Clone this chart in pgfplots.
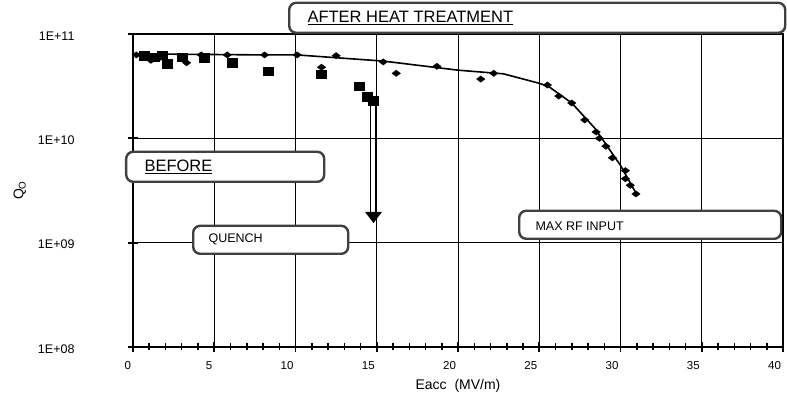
\documentclass[border=0pt]{standalone}
\usepackage{pgfplots}
\pgfplotsset{compat=1.18}
\usepackage{fontspec}
\setmainfont{Liberation Sans}
\usetikzlibrary{arrows.meta}

\pgfplotstableread{
x y
0.2 6.3e10
0.7 6.0e10
1.1 5.6e10
1.7 6.0e10
3.3 5.3e10
4.2 6.3e10
5.8 6.3e10
8.1 6.3e10
10.1 6.3e10
11.6 4.8e10
12.5 6.2e10
15.4 5.4e10
16.2 4.2e10
18.7 4.9e10
21.4 3.7e10
22.2 4.2e10
25.5 3.24e10
26.2 2.54e10
27.0 2.18e10
27.8 1.50e10
28.5 1.15e10
28.7 1.0e10
29.1 8.4e9
29.5 6.5e9
30.3 4.9e9
30.3 4.1e9
30.6 3.55e9
30.95 2.93e9
}\after

\pgfplotstableread{
x y
0 6.45e10
8.1 6.3e10
10.1 6.3e10
15.4 5.5e10
20 4.5e10
22.8 4.15e10
24.9 3.4e10
25.55 3.16e10
27.0 2.18e10
28.4 1.26e10
30.0 5.5e9
30.95 2.99e9
}\fit

\pgfplotstableread{
x y
0.7 6.2e10
1.3 6.0e10
1.8 6.3e10
2.1 5.2e10
3.0 6.0e10
4.4 5.9e10
6.1 5.3e10
8.3 4.4e10
11.6 4.1e10
13.9 3.17e10
14.4 2.5e10
14.8 2.3e10
}\before

\begin{document}
\begin{tikzpicture}
\useasboundingbox (-133pt,-62pt) rectangle (654pt,347pt);
\begin{axis}[
  at={(0pt,0pt)}, anchor=south west,
  width=650pt, height=313pt, scale only axis,
  xmin=0, xmax=40, ymin=1e8, ymax=1e11,
  ymode=log, log basis y=10,
  xtick={0,5,...,40},
  minor x tick num=4,
  ytick={1e8,1e9,1e10,1e11},
  yticklabels={1E+08,1E+09,1E+10,1E+11},
  grid=major,
  axis line style={line width=2.2pt},
  tick pos=left,
  tick align=center,
  major tick length=10pt,
  minor tick length=7pt,
  major tick style={black, line width=1.8pt},
  minor tick style={black, line width=1.5pt},
  major grid style={black, line width=0.7pt},
  /pgf/number format/assume math mode=true,
  xticklabel style={font=\fontsize{11.5}{13}\selectfont, anchor=north east, xshift=1.5pt, yshift=-6pt},
  yticklabel style={font=\fontsize{12.5}{14}\selectfont, xshift=-50pt, yshift=-2pt},
  xlabel={Eacc~~(MV/m)},
  xlabel style={at={(axis description cs:0.5,-0.1246)}, anchor=center, font=\fontsize{14}{16}\selectfont},
  ylabel={Q\textsubscript{O}},
  ylabel style={at={(axis description cs:-0.174,0.5)}, anchor=center, font=\fontsize{14}{16}\selectfont},
  clip=false,
]
\addplot[black, line width=1.6pt, no marks] table[x=x,y=y] {\fit};
\addplot[only marks, black, mark=diamond*, mark size=4.2pt, mark options={rotate=90}] table[x=x,y=y] {\after};
\addplot[only marks, black, mark=square*, mark size=4.2pt, mark options={xscale=1.2}] table[x=x,y=y] {\before};
\draw[line width=1.4pt] (axis cs:14.63,2.3e10) -- (axis cs:14.63,1.97e9);
\draw[line width=1.4pt] (axis cs:14.96,2.3e10) -- (axis cs:14.96,1.97e9);
\fill (axis cs:14.28,1.97e9) -- (axis cs:15.32,1.97e9) -- (axis cs:14.8,1.54e9) -- cycle;
\end{axis}
\tikzset{abox/.style={draw=black!75, line width=2.4pt, rounded corners=7pt, fill=white, anchor=south west, inner sep=0pt}}
\node[abox, minimum width=496pt, minimum height=30pt] at (155pt,313pt) {};
\node[anchor=west, font=\fontsize{16.5}{18}\selectfont] at (171pt,329pt) {\underline{AFTER HEAT TREATMENT}};
\node[abox, minimum width=198pt, minimum height=30pt] at (-8pt,164pt) {};
\node[anchor=west, font=\fontsize{16.5}{18}\selectfont] at (8pt,180pt) {\underline{BEFORE}};
\node[abox, minimum width=155pt, minimum height=28pt] at (59pt,92pt) {};
\node[anchor=west, font=\fontsize{12.5}{14}\selectfont] at (72pt,108pt) {QUENCH};
\node[abox, minimum width=262pt, minimum height=28pt] at (385pt,107pt) {};
\node[anchor=west, font=\fontsize{12.5}{14}\selectfont] at (399pt,121pt) {MAX RF INPUT};
\end{tikzpicture}
\end{document}
